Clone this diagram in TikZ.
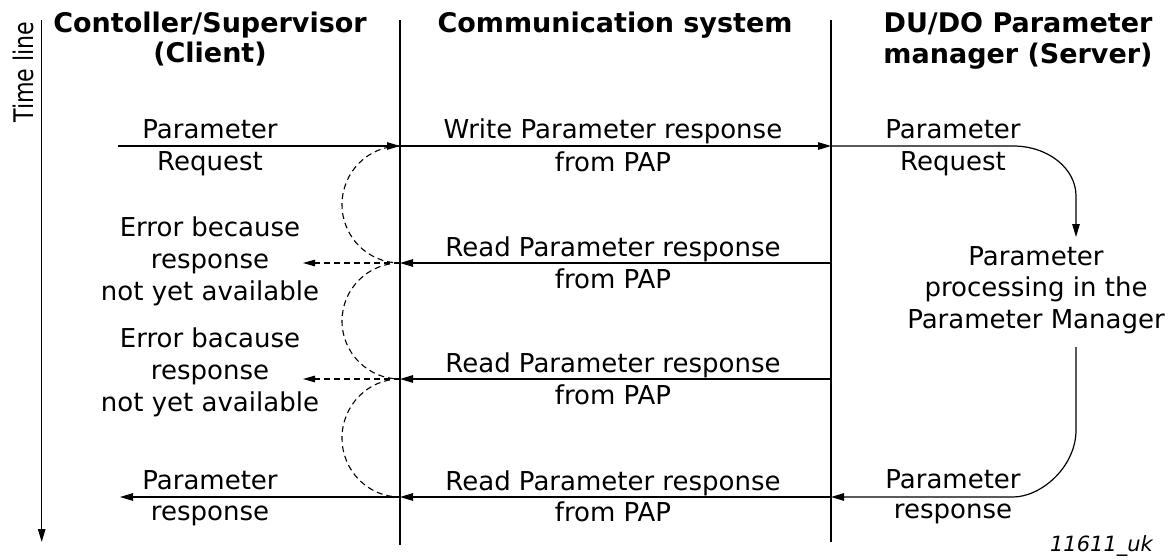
\documentclass[tikz,border=0pt]{standalone}
\usepackage{fontspec}
\usepackage{graphicx}
\setmainfont{DejaVu Sans}
\usetikzlibrary{arrows.meta}
\begin{document}
\begin{tikzpicture}[x=1pt,y=-1pt,
  lbl/.style={font=\fontsize{26}{31}\selectfont, inner sep=0pt, anchor=base},
  hdr/.style={font=\bfseries\fontsize{27}{32}\selectfont, inner sep=0pt, anchor=base},
  life/.style={line width=1.2pt},
  msg/.style={line width=1.2pt, -{Triangle[length=13pt,width=7.5pt]}},
  err/.style={line width=1.1pt, dash pattern=on 6pt off 4pt, -{Triangle[length=12pt,width=6.5pt]}},
  loopline/.style={line width=1.1pt, dash pattern=on 6pt off 4pt}]
\useasboundingbox (0,0) rectangle (1174,559);

% lifelines
\coordinate (tTop) at (41.7,20);  \coordinate (tBot) at (41.7,542);
\coordinate (cTop) at (400,20);   \coordinate (cBot) at (400,545);
\coordinate (sTop) at (831,20);   \coordinate (sBot) at (831,542);
\draw[msg] (tTop) -- (tBot);
\draw[life] (cTop) -- (cBot);
\draw[life] (sTop) -- (sBot);

% message points
\coordinate (a1) at (118,146); \coordinate (c1) at (400,146); \coordinate (s1) at (831,146);
\coordinate (e2) at (303,263); \coordinate (c2) at (400,263); \coordinate (s2) at (831,263);
\coordinate (e3) at (303,379); \coordinate (c3) at (400,379); \coordinate (s3) at (831,379);
\coordinate (a4) at (120,497); \coordinate (c4) at (400,497); \coordinate (s4) at (831,497);
\coordinate (r1) at (1013,146); \coordinate (pIn) at (1076,237);
\coordinate (pOut) at (1076,347); \coordinate (r4) at (1076,430); \coordinate (q4) at (1013,497);

% headers
\node[font=\fontsize{27}{31}\selectfont, inner sep=0pt, anchor=base, rotate=90] (tl) at (33,72) {\scalebox{0.82}[1]{Time line}};
\node[hdr] (h1a) at (210,33) {Contoller/Supervisor};
\node[hdr] (h1b) at (210,63) {(Client)};
\node[hdr] (h2a) at (615,33) {Communication system};
\node[hdr] (h3a) at (1018,33) {DU/DO Parameter};
\node[hdr] (h3b) at (1018,64) {manager (Server)};

% row 1
\draw[msg] (a1) -- (c1);
\draw[msg] (c1) -- (s1);
\draw[msg] (s1) -- (r1) .. controls (1048,146) and (1076,168.4) .. (1076,196) -- (pIn);
\node[lbl] (l1a) at (210,138) {Parameter};
\node[lbl] (l1b) at (210,170) {Request};
\node[lbl] (m1a) at (613,138) {Write Parameter response};
\node[lbl] (m1b) at (613,171) {from PAP};
\node[lbl] (r1a) at (953,138) {Parameter};
\node[lbl] (r1b) at (953,170) {Request};

% processing
\node[lbl] (p1) at (1036,265) {Parameter};
\node[lbl] (p2) at (1036,296) {processing in the};
\node[lbl] (p3) at (1036,328) {Parameter Manager};

% row 2
\draw[msg] (s2) -- (c2);
\draw[err] (c2) -- (e2);
\node[lbl] (m2a) at (613,256) {Read Parameter response};
\node[lbl] (m2b) at (613,288) {from PAP};
\node[lbl] (l2a) at (210,236.5) {Error because};
\node[lbl] (l2b) at (210,268.5) {response};
\node[lbl] (l2c) at (210,300) {not yet available};

% row 3
\draw[msg] (s3) -- (c3);
\draw[err] (c3) -- (e3);
\node[lbl] (m3a) at (613,372) {Read Parameter response};
\node[lbl] (m3b) at (613,404) {from PAP};
\node[lbl] (l3a) at (210,347) {Error bacause};
\node[lbl] (l3b) at (210,379.5) {response};
\node[lbl] (l3c) at (210,411.5) {not yet available};

% row 4
\draw[msg] (pOut) -- (r4) .. controls (1076,467) and (1041,497) .. (q4) -- (s4);
\draw[msg] (s4) -- (c4);
\draw[msg] (c4) -- (a4);
\node[lbl] (m4a) at (613,490) {Read Parameter response};
\node[lbl] (m4b) at (613,521) {from PAP};
\node[lbl] (l4a) at (210,489) {Parameter};
\node[lbl] (l4b) at (210,520) {response};
\node[lbl] (r4a) at (953,488) {Parameter};
\node[lbl] (r4b) at (953,518) {response};

% dashed retry loops
\draw[loopline] (c1) .. controls (368,146) and (342,172.2) .. (342,204.5)
                     .. controls (342,236.8) and (368,263) .. (c2);
\draw[loopline] (c2) .. controls (368,263) and (342,289) .. (342,321)
                     .. controls (342,353) and (368,379) .. (c3);
\draw[loopline] (c3) .. controls (368,379) and (342,405.4) .. (342,438)
                     .. controls (342,470.6) and (368,497) .. (c4);

% tag
\node[font=\itshape\fontsize{21}{25}\selectfont, inner sep=0pt, anchor=base] (tag) at (1101.5,551) {11611\_uk};
\end{tikzpicture}
\end{document}
